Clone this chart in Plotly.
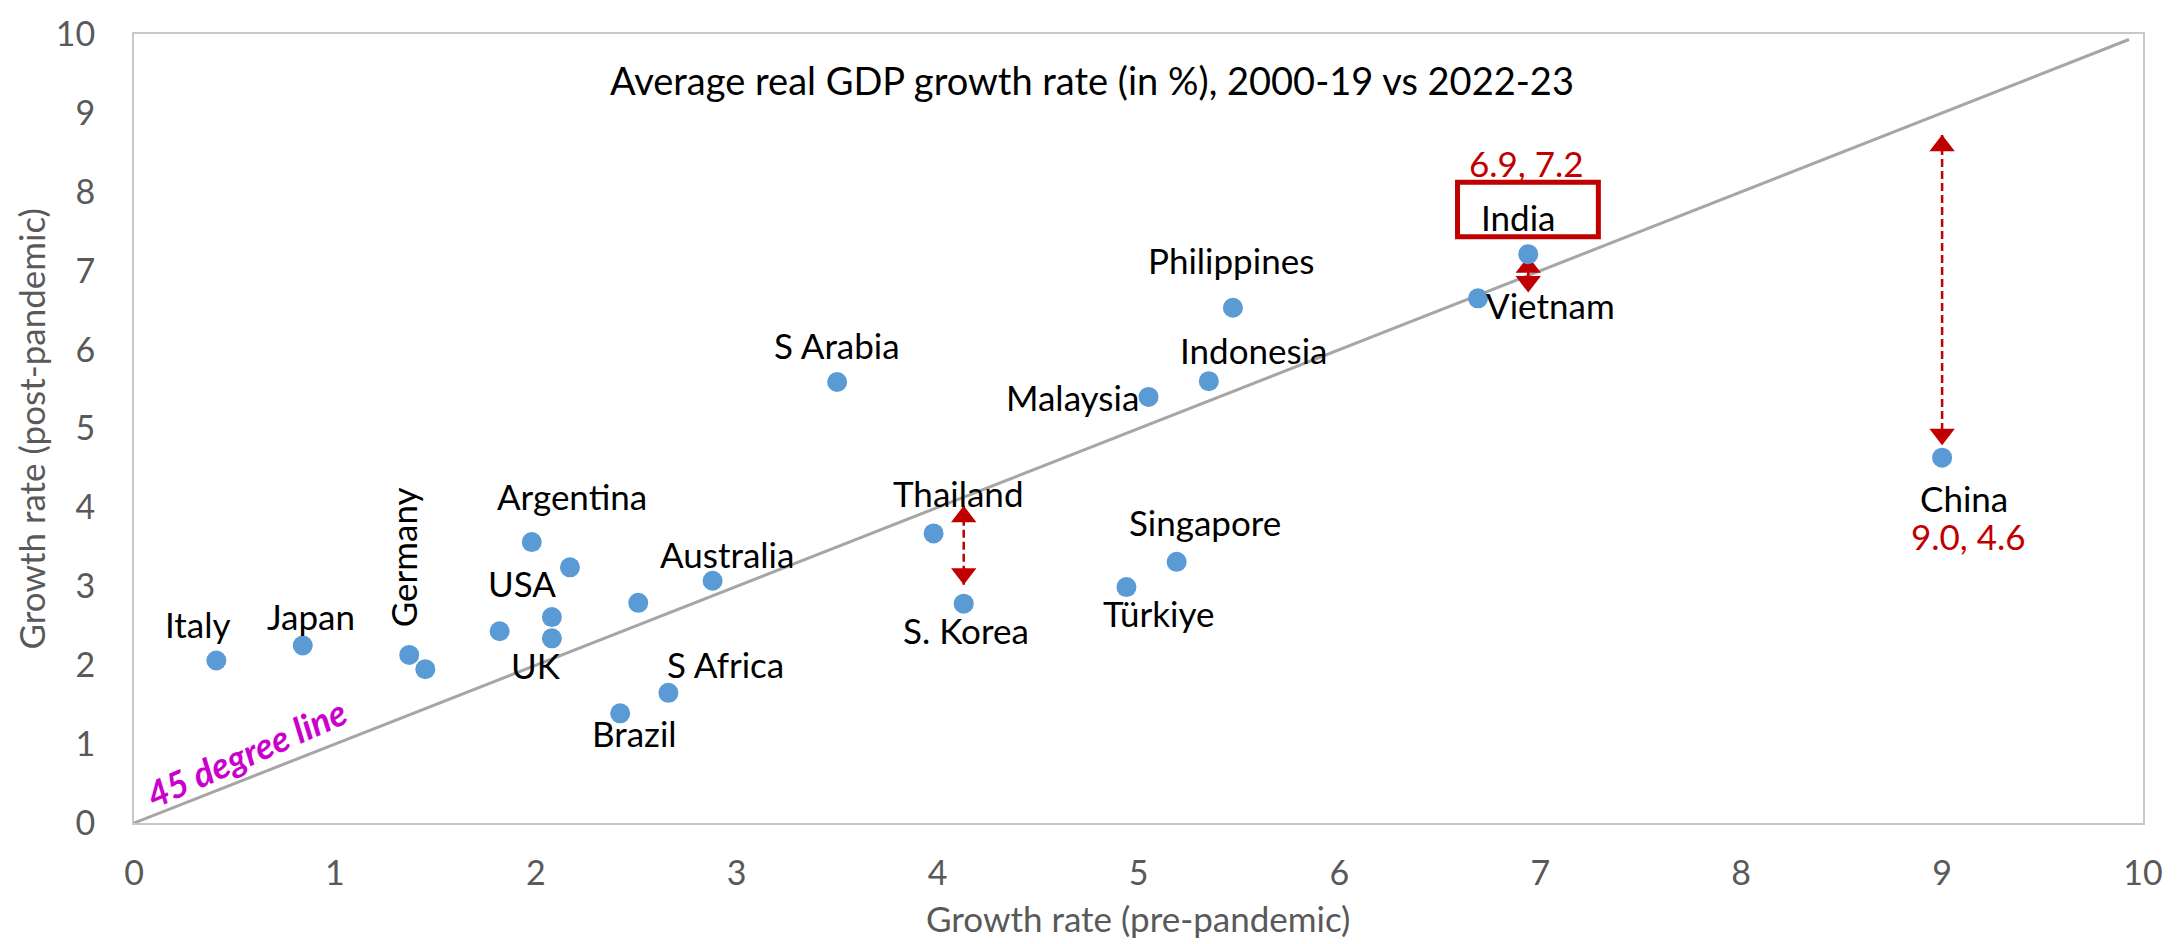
import plotly.graph_objects as go

# Average real GDP growth (%): 2000-19 (pre-pandemic) vs 2022-23 (post-pandemic)
countries = ["Italy", "Japan", "Germany", "", "", "Argentina", "", "USA", "UK", "",
             "S Africa", "Brazil", "Australia", "S Arabia", "Thailand", "S. Korea",
             "Türkiye", "Singapore", "Malaysia", "Indonesia", "Philippines",
             "Vietnam", "India", "China"]
pre = [0.41, 0.84, 1.37, 1.45, 1.82, 1.98, 2.17, 2.08, 2.08, 2.51,
       2.66, 2.42, 2.88, 3.50, 3.98, 4.13,
       4.94, 5.19, 5.05, 5.35, 5.47,
       6.69, 6.94, 9.00]
post = [2.06, 2.25, 2.13, 1.95, 2.43, 3.56, 3.24, 2.61, 2.34, 2.79,
        1.65, 1.39, 3.07, 5.59, 3.67, 2.78,
        2.99, 3.31, 5.40, 5.60, 6.53,
        6.65, 7.21, 4.63]
x_ticks = list(range(0, 11))
y_ticks = list(range(0, 11))

# Label placement (offset from each point, in axis units) and rotation
label_offset = {
    "Italy": (-0.09, 0.46, 0), "Japan": (0.04, 0.37, 0), "Germany": (-0.03, 1.24, -90),
    "Argentina": (0.20, 0.58, 0), "USA": (-0.15, 0.43, 0), "UK": (-0.08, -0.34, 0),
    "Brazil": (0.07, -0.25, 0), "S Africa": (0.285, 0.37, 0), "Australia": (0.07, 0.34, 0),
    "S Arabia": (0.0, 0.47, 0), "Philippines": (-0.01, 0.61, 0), "Malaysia": (-0.38, 0.0, 0),
    "Indonesia": (0.22, 0.40, 0), "Thailand": (0.12, 0.515, 0), "Singapore": (0.14, 0.50, 0),
    "S. Korea": (0.01, -0.33, 0), "Türkiye": (0.16, -0.33, 0), "Vietnam": (0.36, -0.09, 0),
    "India": (-0.05, 0.47, 0), "China": (0.11, -0.51, 0),
}
# Countries whose values are printed, with the offset of that value label
value_offset = {"India": (-0.01, 1.15), "China": (0.13, -0.99)}
# Highlighted gaps: (country, gap below upper end, gap above lower end)
gap_arrows = [("China", 0.28, 0.16), ("S. Korea", 0.11, 0.24), ("India", 0.03, -0.215)]

FONT = "Lato"
RED = "#C00000"
GREY_TXT = "#595959"
W, H = 2180, 944
M = dict(l=134, r=37, t=23, b=121)
PW, PH = W - M["l"] - M["r"], H - M["t"] - M["b"]
px_per_y = PH / 10.0


def px_to_paper(px, py):
    """Convert a pixel position on the page to plot-area paper coordinates."""
    return (px - M["l"]) / PW, (H - M["b"] - py) / PH


fig = go.Figure()

# 45 degree reference line
fig.add_trace(go.Scatter(x=[0, 9.93], y=[0, 9.93], mode="lines",
                         line=dict(color="#A6A6A6", width=3),
                         hoverinfo="skip", showlegend=False))

# Gap arrows: dashed shaft plus triangular heads
head = 22
for name, g_top, g_bot in gap_arrows:
    i = countries.index(name)
    xa = pre[i]
    top = max(pre[i], post[i]) - g_top
    bot = min(pre[i], post[i]) + g_bot
    fig.add_trace(go.Scatter(x=[xa, xa], y=[top, bot], mode="lines",
                             line=dict(color=RED, width=2.5, dash="8px,4px"),
                             hoverinfo="skip", showlegend=False))
    off = (head / 2) / px_per_y
    fig.add_trace(go.Scatter(x=[xa, xa], y=[top - off, bot + off], mode="markers",
                             marker=dict(symbol=["triangle-up", "triangle-down"],
                                         size=head, color=RED, line=dict(width=0)),
                             hoverinfo="skip", showlegend=False))

# Country points
fig.add_trace(go.Scatter(x=pre, y=post, mode="markers",
                         marker=dict(size=20, color="#5B9BD5", line=dict(width=0)),
                         text=countries, showlegend=False))

annotations = []
for name, xv, yv in zip(countries, pre, post):
    if name in label_offset:
        dx, dy, ang = label_offset[name]
        annotations.append(dict(x=xv + dx, y=yv + dy, xref="x", yref="y", text=name,
                                showarrow=False, textangle=ang,
                                font=dict(family=FONT, size=35, color="black"),
                                xanchor="center", yanchor="middle"))
    if name in value_offset:
        dx, dy = value_offset[name]
        annotations.append(dict(x=xv + dx, y=yv + dy, xref="x", yref="y",
                                text=f"{xv:.1f}, {yv:.1f}", showarrow=False,
                                font=dict(family=FONT, size=35, color=RED),
                                xanchor="center", yanchor="middle"))

# Title
tx, ty = px_to_paper(1092, 70)
annotations.append(dict(x=tx, y=ty, xref="paper", yref="paper",
                        text="Average real GDP growth rate (in %), 2000-19 vs 2022-23",
                        showarrow=False, xanchor="center", yanchor="middle",
                        font=dict(family=FONT, size=38, color="black")))
# Axis titles
ax_x, ax_y = px_to_paper(1138, 919)
annotations.append(dict(x=ax_x, y=ax_y, xref="paper", yref="paper",
                        text="Growth rate (pre-pandemic)", showarrow=False,
                        xanchor="center", yanchor="middle",
                        font=dict(family=FONT, size=35, color=GREY_TXT)))
ay_x, ay_y = px_to_paper(31, 424)
annotations.append(dict(x=ay_x, y=ay_y, xref="paper", yref="paper",
                        text="Growth rate (post-pandemic)", showarrow=False, textangle=-90,
                        xanchor="center", yanchor="middle",
                        font=dict(family=FONT, size=35, color=GREY_TXT)))
# Reference line caption
annotations.append(dict(x=0.555, y=0.89, xref="x", yref="y", text="45 degree line",
                        showarrow=False, textangle=-24, xanchor="center", yanchor="middle",
                        font=dict(family=FONT, size=36, color="#CC00CC",
                                  weight="bold", style="italic")))

# Box around the India label
i_ind = countries.index("India")
shapes = [dict(type="rect", xref="x", yref="y",
               x0=pre[i_ind] - 0.352, x1=pre[i_ind] + 0.349,
               y0=post[i_ind] + 0.22, y1=post[i_ind] + 0.91,
               line=dict(color=RED, width=5), fillcolor="rgba(0,0,0,0)")]

axis_common = dict(range=[0, 10], showgrid=False, zeroline=False, showline=True,
                   linecolor="#C8C8C8", linewidth=2, mirror=True, ticks="",
                   tickfont=dict(family=FONT, size=34, color=GREY_TXT))
fig.update_layout(
    width=W, height=H, margin=M,
    paper_bgcolor="white", plot_bgcolor="white",
    xaxis=dict(tickvals=x_ticks, ticklabelstandoff=19, **axis_common),
    yaxis=dict(tickvals=y_ticks, ticklabelstandoff=30, **axis_common),
    annotations=annotations, shapes=shapes, showlegend=False,
)

fig.write_html("out.html")
